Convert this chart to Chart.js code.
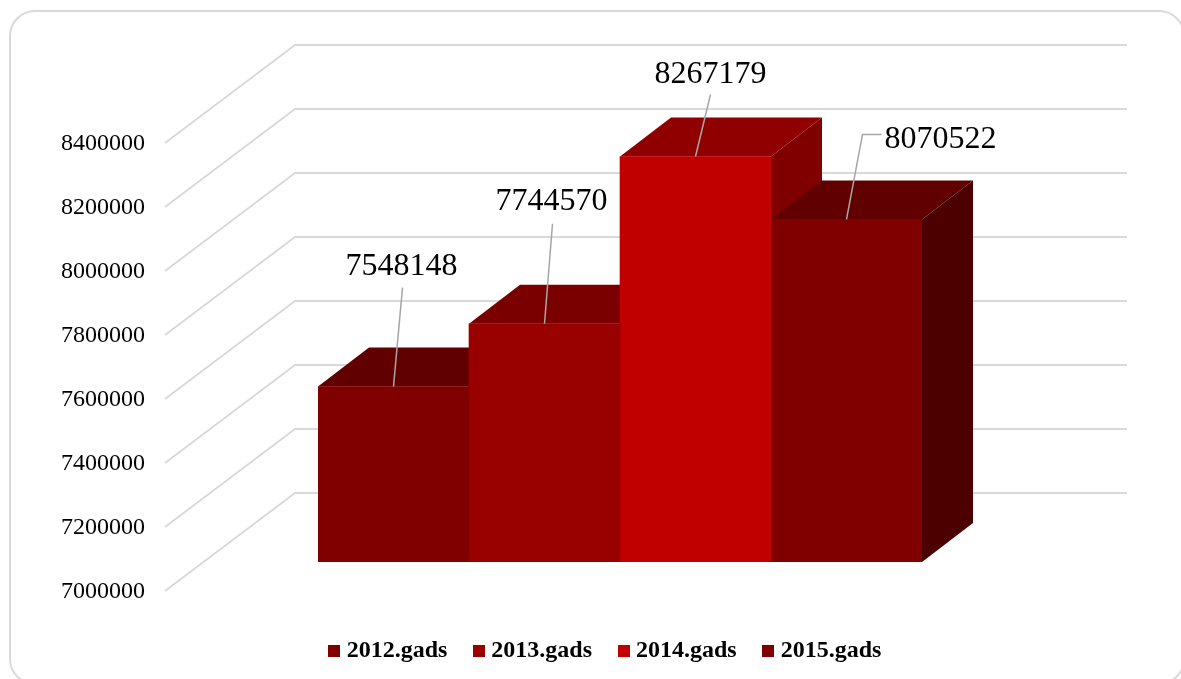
<!DOCTYPE html>
<html>
<head>
<meta charset="utf-8">
<style>
  html, body { margin:0; padding:0; background:#fff; width:1181px; height:679px; overflow:hidden; }
  /* rounded card frame, runs off the right and bottom of the picture */
  #frame { position:absolute; left:9px; top:10px; width:1172px; height:671px; border:2px solid #D9D9D9; border-radius:26px; box-sizing:content-box; }
  #chart { position:absolute; left:0; top:0; }
</style>
<script src="https://cdn.jsdelivr.net/npm/chart.js@4/dist/chart.umd.min.js"></script>
</head>
<body>
<div id="frame"></div>
<canvas id="chart" width="1181" height="679"></canvas>
<script>
const categories = [''];
const seriesNames = ['2012.gads', '2013.gads', '2014.gads', '2015.gads'];
const seriesValues = [7548148, 7744570, 8267179, 8070522];
const yTicks = [7000000, 7200000, 7400000, 7600000, 7800000, 8000000, 8200000, 8400000];

const frontColors = ['#800000', '#990000', '#C00000', '#800000'];
const topColors = ['#600000', '#7A0000', '#900000', '#600000'];
const sideColors = ['#4D0000', '#5C0000', '#800000', '#4D0000'];

// fake 3D: bar depth, and how far the floor grid sits in front of / behind the bars
const DEPTH_X = 51, DEPTH_Y = 39;
const GRID_FRONT = { x: -153, y: 29 };
const GRID_BACK = { x: -23, y: -69 };
const GRID_RIGHT = 1127;
const LEGEND_TOP = 608;

// label text offset from the top centre of each bar, leader line as offsets too
const labelLayout = [
  { dx: 8, dy: -120, leader: [[9, -99], [0, 0]] },
  { dx: 7, dy: -122, leader: [[8, -100], [0, 0]] },
  { dx: 15, dy: -82, leader: [[15, -62], [0, 0]] },
  { dx: 94, dy: -80, leader: [[35, -85], [16, -85], [0, 0]] }
];

function swatch(color) {
  const c = document.createElement('canvas');
  c.width = 12; c.height = 12;
  const g = c.getContext('2d');
  g.fillStyle = color;
  g.fillRect(0, 0, 12, 12);
  return c;
}

const depthPlugin = {
  id: 'depth',
  afterLayout(chart) {
    // legend sits lower than the layout would put it
    const h = chart.legend.height;
    chart.legend.top = LEGEND_TOP;
    chart.legend.bottom = LEGEND_TOP + h;
  },
  beforeDatasetsDraw(chart) {
    const { ctx, chartArea, scales } = chart;
    // floor and wall grid
    ctx.save();
    ctx.strokeStyle = '#D9D9D9';
    ctx.lineWidth = 2;
    ctx.lineJoin = 'round';
    yTicks.forEach(v => {
      const y = scales.y.getPixelForValue(v);
      ctx.beginPath();
      ctx.moveTo(chartArea.left + GRID_FRONT.x, y + GRID_FRONT.y);
      ctx.lineTo(chartArea.left + GRID_BACK.x, y + GRID_BACK.y);
      ctx.lineTo(GRID_RIGHT, y + GRID_BACK.y);
      ctx.stroke();
    });
    // top and side faces, left to right so the later bars cover the earlier ones
    const b = scales.y.getPixelForValue(yTicks[0]);
    chart.data.datasets.forEach((ds, i) => {
      const bar = chart.getDatasetMeta(i).data[0];
      const l = bar.x - bar.width / 2, r = bar.x + bar.width / 2;
      const t = bar.y;
      ctx.fillStyle = topColors[i];
      ctx.beginPath();
      ctx.moveTo(l, t);
      ctx.lineTo(r, t);
      ctx.lineTo(r + DEPTH_X, t - DEPTH_Y);
      ctx.lineTo(l + DEPTH_X, t - DEPTH_Y);
      ctx.closePath();
      ctx.fill();
      ctx.fillStyle = sideColors[i];
      ctx.beginPath();
      ctx.moveTo(r, t);
      ctx.lineTo(r + DEPTH_X, t - DEPTH_Y);
      ctx.lineTo(r + DEPTH_X, b - DEPTH_Y);
      ctx.lineTo(r, b);
      ctx.closePath();
      ctx.fill();
    });
    ctx.restore();
  },
  afterDatasetsDraw(chart) {
    const { ctx } = chart;
    ctx.save();
    chart.data.datasets.forEach((ds, i) => {
      const bar = chart.getDatasetMeta(i).data[0];
      const lay = labelLayout[i];
      ctx.strokeStyle = '#A6A6A6';
      ctx.lineWidth = 1.5;
      ctx.beginPath();
      lay.leader.forEach((p, k) => {
        if (k === 0) ctx.moveTo(bar.x + p[0], bar.y + p[1]);
        else ctx.lineTo(bar.x + p[0], bar.y + p[1]);
      });
      ctx.stroke();
      ctx.fillStyle = '#000';
      ctx.font = '32px "Liberation Serif"';
      ctx.textAlign = 'center';
      ctx.textBaseline = 'middle';
      ctx.fillText(String(ds.data[0]), bar.x + lay.dx, bar.y + lay.dy);
    });
    ctx.restore();
  }
};

new Chart(document.getElementById('chart'), {
  type: 'bar',
  data: {
    labels: categories,
    datasets: seriesNames.map((name, i) => ({
      label: name,
      data: [seriesValues[i]],
      backgroundColor: frontColors[i],
      borderWidth: 0,
      barPercentage: 1,
      categoryPercentage: 1
    }))
  },
  plugins: [depthPlugin],
  options: {
    responsive: false,
    animation: false,
    layout: { padding: { left: 34, right: 0, top: 114, bottom: 52 } },
    plugins: {
      tooltip: { enabled: false },
      legend: {
        position: 'bottom',
        labels: {
          color: '#000',
          font: { family: '"Liberation Serif"', size: 24, weight: 'bold' },
          usePointStyle: true,
          pointStyleWidth: 1,
          boxHeight: 12,
          padding: 31,
          generateLabels(chart) {
            return Chart.defaults.plugins.legend.labels.generateLabels(chart).map((item, i) => {
              item.pointStyle = swatch(frontColors[i]);
              return item;
            });
          }
        }
      }
    },
    scales: {
      x: { display: false },
      y: {
        min: yTicks[0],
        max: yTicks[yTicks.length - 1],
        grid: { display: false, drawTicks: false },
        border: { display: false },
        afterBuildTicks(s) { s.ticks = yTicks.map(v => ({ value: v })); },
        afterFit(s) {
          s.width = 284;
          // tick padding would otherwise also be reserved above and below the axis
          s.paddingTop = 0;
          s.paddingBottom = 0;
        },
        ticks: {
          color: '#000',
          font: { family: '"Liberation Serif"', size: 24 },
          padding: 173,
          labelOffset: 30,
          callback: v => String(v)
        }
      },
      // empty axis, only holds the bars away from the right edge
      pad: {
        position: 'right',
        grid: { display: false, drawTicks: false },
        border: { display: false },
        ticks: { display: false },
        afterFit(s) { s.width = 259; }
      }
    }
  }
});
</script>
</body>
</html>
